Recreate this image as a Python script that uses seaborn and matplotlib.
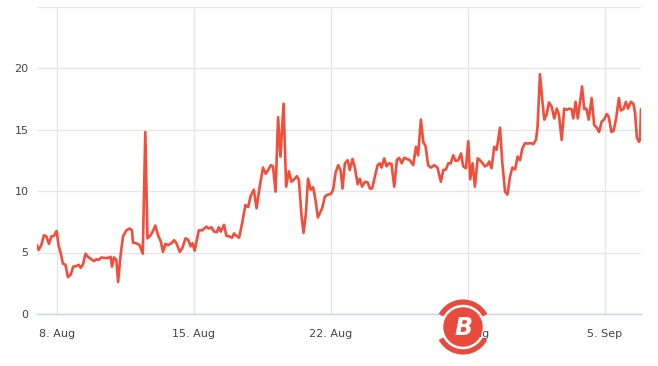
import numpy as np
import pandas as pd
import seaborn as sns
import matplotlib.pyplot as plt
from matplotlib.patches import Circle, Arc

# days since 7 Aug 00:00
days = [0.00, 0.08, 0.22, 0.35, 0.48, 0.61, 0.73, 0.86, 1.00, 1.10,
        1.21, 1.32, 1.45, 1.58, 1.72, 1.85, 2.01, 2.13, 2.23, 2.35,
        2.48, 2.60, 2.77, 2.91, 3.03, 3.15, 3.29, 3.45, 3.62, 3.76,
        3.83, 3.93, 4.05, 4.14, 4.27, 4.39, 4.56, 4.73, 4.85, 4.90,
        5.07, 5.24, 5.40, 5.53, 5.64, 5.80, 5.94, 6.04, 6.18, 6.32,
        6.43, 6.56, 6.69, 6.86, 7.00, 7.12, 7.29, 7.42, 7.58, 7.71,
        7.85, 7.94, 8.05, 8.26, 8.43, 8.65, 8.77, 8.91, 9.04, 9.18,
        9.28, 9.38, 9.55, 9.67, 9.84, 9.96, 10.06, 10.18, 10.32, 10.47,
        10.64, 10.78, 10.91, 11.07, 11.21, 11.37, 11.54, 11.68, 11.80, 11.94,
        12.05, 12.18, 12.31, 12.43, 12.59, 12.72, 12.86, 12.99, 13.13, 13.27,
        13.37, 13.51, 13.61, 13.73, 13.84, 13.97, 14.10, 14.22, 14.34, 14.44,
        14.56, 14.70, 14.83, 15.00, 15.12, 15.24, 15.38, 15.50, 15.60, 15.72,
        15.86, 15.97, 16.11, 16.23, 16.37, 16.48, 16.60, 16.74, 16.88, 17.00,
        17.11, 17.25, 17.39, 17.51, 17.59, 17.73, 17.85, 17.98, 18.10, 18.24,
        18.38, 18.49, 18.62, 18.75, 18.90, 19.04, 19.21, 19.35, 19.46, 19.60,
        19.72, 19.84, 19.97, 20.11, 20.28, 20.45, 20.62, 20.74, 20.88, 21.00,
        21.12, 21.25, 21.37, 21.51, 21.65, 21.76, 21.90, 22.02, 22.12, 22.24,
        22.36, 22.50, 22.62, 22.73, 22.87, 22.99, 23.09, 23.21, 23.35, 23.47,
        23.64, 23.76, 23.90, 24.02, 24.15, 24.27, 24.41, 24.54, 24.66, 24.78,
        24.92, 25.05, 25.22, 25.34, 25.48, 25.56, 25.68, 25.80, 25.90, 26.02,
        26.14, 26.28, 26.41, 26.54, 26.65, 26.79, 26.92, 27.05, 27.16, 27.30,
        27.38, 27.50, 27.61, 27.73, 27.83, 27.94, 28.05, 28.17, 28.32, 28.45,
        28.58, 28.70, 28.83, 28.95, 29.09, 29.19, 29.33, 29.44, 29.57, 29.71,
        29.81, 29.94, 30.07, 30.18, 30.32, 30.45, 30.54, 30.63, 30.73, 30.79,
        30.84]

values = [5.6, 5.2, 5.6, 6.4, 6.3, 5.7, 6.3, 6.35, 6.75, 5.6,
          4.95, 4.1, 4.0, 3.0, 3.2, 3.85, 3.9, 4.0, 3.75, 4.05,
          4.9, 4.65, 4.45, 4.3, 4.45, 4.4, 4.6, 4.55, 4.55, 4.65,
          3.85, 4.6, 4.4, 2.6, 4.8, 6.3, 6.8, 6.95, 6.8, 5.8,
          5.75, 5.6, 4.9, 14.8, 6.15, 6.4, 6.8, 7.2, 6.4, 5.9,
          5.05, 5.7, 5.6, 5.75, 6.0, 5.75, 5.05, 5.35, 6.15, 6.05,
          5.5, 5.75, 5.15, 6.8, 6.8, 7.1, 6.95, 7.05, 6.7, 6.65,
          7.05, 6.7, 7.25, 6.35, 6.3, 6.2, 6.55, 6.35, 6.2, 7.35,
          8.85, 8.7, 9.6, 10.1, 8.6, 10.35, 11.9, 11.4, 11.7, 12.1,
          12.0, 9.95, 16.0, 12.8, 17.1, 10.35, 11.6, 10.75, 10.95, 11.2,
          10.9, 7.9, 6.6, 8.2, 11.0, 10.1, 10.3, 9.25, 7.85, 8.2,
          8.6, 9.55, 9.7, 9.75, 10.1, 11.45, 12.1, 11.7, 10.2, 12.25,
          12.5, 11.7, 12.6, 11.9, 10.55, 11.0, 10.35, 10.75, 10.7, 10.2,
          10.2, 11.15, 12.1, 12.25, 11.9, 12.65, 12.0, 12.25, 12.2, 10.35,
          12.55, 12.7, 12.25, 12.7, 12.6, 12.5, 12.1, 13.6, 12.9, 15.8,
          14.0, 13.65, 12.1, 11.9, 12.1, 11.9, 10.75, 11.7, 11.75, 12.25,
          12.25, 12.9, 12.45, 12.5, 13.05, 12.0, 11.85, 14.05, 10.95, 12.25,
          10.35, 12.65, 12.5, 12.3, 12.0, 12.1, 12.4, 11.85, 13.6, 13.35,
          15.15, 12.25, 9.95, 9.7, 11.15, 11.9, 11.75, 12.8, 12.5, 13.45,
          13.9, 13.85, 13.9, 13.8, 14.2, 15.25, 19.5, 17.4, 15.8, 16.2,
          17.2, 16.85, 15.9, 16.7, 16.2, 14.15, 16.7, 16.6, 16.7, 16.65,
          15.9, 17.25, 15.9, 17.25, 18.5, 16.65, 16.7, 15.8, 17.55, 15.35,
          15.15, 14.8, 15.65, 15.8, 16.25, 16.05, 14.8, 14.9, 15.9, 17.55,
          16.55, 16.65, 17.25, 16.7, 17.25, 17.1, 16.3, 14.35, 14.0, 14.15,
          16.65]

tick_dates = ['2018-08-08', '2018-08-15', '2018-08-22', '2018-08-29', '2018-09-05']
tick_labels = ['8. Aug', '15. Aug', '22. Aug', '29. Aug', '5. Sep']
y_ticks = [0, 5, 10, 15, 20, 25]
y_labels = ['0', '5', '10', '15', '20', '']

start = pd.Timestamp('2018-08-07')
df = pd.DataFrame({'time': start + pd.to_timedelta(days, unit='D'), 'value': values})

sns.set_style('white')
fig = plt.figure(figsize=(6.58, 3.66), dpi=100)
ax = fig.add_axes([37 / 658, 52 / 366, 604 / 658, 307.5 / 366])

sns.lineplot(data=df, x='time', y='value', ax=ax, color='#f24e3b', linewidth=1.9)

ax.set_xlim(start, start + pd.Timedelta(days=30.84))
ax.set_ylim(0, 25)
ax.set_yticks(y_ticks)
ax.set_yticklabels(y_labels)
ax.set_xticks(pd.to_datetime(tick_dates))
ax.set_xticklabels(tick_labels)
ax.set_xlabel('')
ax.set_ylabel('')

ax.grid(True, color='#e6e6e6', linewidth=1)
ax.set_axisbelow(True)
for s in ['top', 'right', 'left']:
    ax.spines[s].set_visible(False)
ax.spines['bottom'].set_color('#ccd6eb')
ax.spines['bottom'].set_linewidth(1)
ax.tick_params(axis='y', length=0, pad=6, labelsize=8, labelcolor='#444444')
ax.tick_params(axis='x', length=7, width=1, color='#ccd6eb', pad=4,
               labelsize=8, labelcolor='#444444')

# watermark logo, sits on top of the 29 Aug label like in the source
lax = fig.add_axes([(463 - 28) / 658, (366 - 327 - 28) / 366, 56 / 658, 56 / 366])
lax.set_xlim(-1, 1)
lax.set_ylim(-1, 1)
lax.set_aspect('equal')
lax.axis('off')
red = '#e84b3c'
lax.add_patch(Circle((0, 0), 0.68, color=red))
lax.add_patch(Arc((0, 0), 1.78, 1.78, theta1=28, theta2=152, color=red, linewidth=3.8))
lax.add_patch(Arc((0, 0), 1.78, 1.78, theta1=208, theta2=332, color=red, linewidth=3.8))
lax.text(0.03, -0.03, 'B', color='white', fontsize=17, fontweight='bold',
         style='italic', ha='center', va='center')

fig.savefig('out.png', dpi=100)
